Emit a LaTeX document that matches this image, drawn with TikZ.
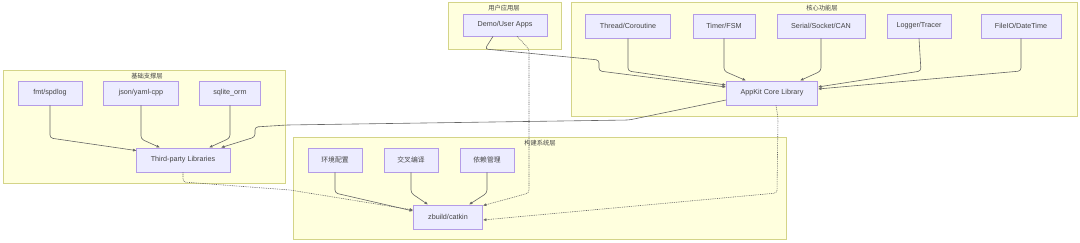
\documentclass[tikz,border=0pt]{standalone}
\usepackage{fontspec}
\setmainfont{Liberation Sans}
\newfontfamily\cjk{Noto Sans CJK SC}
\usetikzlibrary{arrows.meta,calc}
\definecolor{nodefill}{HTML}{ECECFF}
\definecolor{nodedraw}{HTML}{B49CE6}
\definecolor{clfill}{HTML}{FFFFDE}
\definecolor{cldraw}{HTML}{D4D488}
\definecolor{txt}{HTML}{444444}
\definecolor{edgec}{HTML}{666666}
\tikzset{
  box/.style={draw=nodedraw,fill=nodefill,line width=0.8pt,minimum height=24pt,inner sep=0pt,text=txt,font=\fontsize{7.2}{8}\selectfont},
  cluster/.style={draw=cldraw,fill=clfill,line width=0.8pt},
  cltitle/.style={text=txt,font=\cjk\fontsize{6.3}{7}\selectfont,inner sep=0pt},
  edge/.style={draw=edgec,line width=0.6pt,rounded corners=3pt,-{Latex[length=3.5pt,width=3pt]}},
  dotedge/.style={edge,dash pattern=on 0.9pt off 0.9pt}
}
\begin{document}
\begin{tikzpicture}[x=1pt,y=-1pt]
\useasboundingbox (0,0) rectangle (1080,243);
% clusters
\draw[cluster] (3,70) rectangle (285,183);
\node[cltitle] (t1) at (147,76.5) {基础支撑层};
\draw[cluster] (448,2) rectangle (561,49);
\node[cltitle] (t2) at (504,8.5) {用户应用层};
\draw[cluster] (571,2) rectangle (1077,116);
\node[cltitle] (t3) at (822,8.5) {核心功能层};
\draw[cluster] (293,137) rectangle (786,239);
\node[cltitle] (t4) at (540,143.5) {构建系统层};
% nodes
\node[box,minimum width=64pt] (fmt) at (50,93) {fmt/spdlog};
\node[box,minimum width=75pt] (json) at (141,93) {json/yaml-cpp};
\node[box,minimum width=61pt] (sqlite) at (230,93) {sqlite\_orm};
\node[box,minimum width=94pt] (tpl) at (183,160) {Third-party Libraries};
\node[box,minimum width=84pt,minimum height=22pt] (demo) at (505,25) {Demo/User Apps};
\node[box,minimum width=85pt] (thread) at (628,26) {Thread/Coroutine};
\node[box,minimum width=62pt] (timer) at (724,26) {Timer/FSM};
\node[box,minimum width=88pt] (serial) at (821,26) {Serial/Socket/CAN};
\node[box,minimum width=64pt] (logger) at (919,26) {Logger/Tracer};
\node[box,minimum width=80pt] (fileio) at (1021,26) {FileIO/DateTime};
\node[box,minimum width=91pt] (appkit) at (772,93) {AppKit Core Library};
\node[box,minimum width=54pt,font=\cjk\fontsize{6.8}{8}\selectfont] (env) at (335,160) {环境配置};
\node[box,minimum width=54pt,font=\cjk\fontsize{6.8}{8}\selectfont] (cross) at (411,160) {交叉编译};
\node[box,minimum width=54pt,font=\cjk\fontsize{6.8}{8}\selectfont] (dep) at (487,160) {依赖管理};
\node[box,minimum width=69pt] (zbuild) at (448,217) {zbuild/catkin};
% edges: foundation
\draw[edge] (fmt.south) -- (50,138) -- ([shift={(1,3)}]tpl.north west);
\draw[edge] (json.south) -- (141,139) -- ([xshift=-23pt]tpl.north);
\draw[edge] (sqlite.south) -- (230,138) -- ([xshift=26pt]tpl.north);
\draw[edge] ([yshift=-7pt]appkit.west) -- (629,120) -- (287,125) -- (255,127) -- (255,137) -- ([xshift=38pt]tpl.north);
% edges: core
\draw[edge] ([xshift=-12pt]demo.south) -- (485,49) -- (599,60) -- (599,71) -- ([yshift=6pt]appkit.west);
\draw[edge] (thread.south) -- (628,71) -- ([yshift=8pt]appkit.west);
\draw[edge] (timer.south) -- (724,71) -- ([xshift=-26pt]appkit.north);
\draw[edge] (serial.south) -- (821,71) -- ([xshift=28pt]appkit.north);
\draw[edge] (logger.south) -- (921,71) -- ([yshift=6pt]appkit.east);
\draw[edge] (fileio.south) -- (1021,71) -- ([yshift=4pt]appkit.east);
% edges: build
\draw[dotedge] ([xshift=12pt]demo.south) -- (529,49) -- (529,193) -- ([yshift=-1pt]zbuild.north east);
\draw[dotedge] ([xshift=4pt]appkit.south) -- (778,118) -- (777,193) -- ([yshift=-3pt]zbuild.east);
\draw[dotedge] (tpl.south) -- (183,182) -- (290,190) -- ([yshift=7pt]zbuild.west);
\draw[edge] (env.south) -- (335,193) -- ([yshift=6pt]zbuild.west);
\draw[edge] (cross.south) -- (411,193) -- ([xshift=-20pt]zbuild.north);
\draw[edge] (dep.south) -- (487,193) -- ([xshift=21pt]zbuild.north);
\end{tikzpicture}
\end{document}
